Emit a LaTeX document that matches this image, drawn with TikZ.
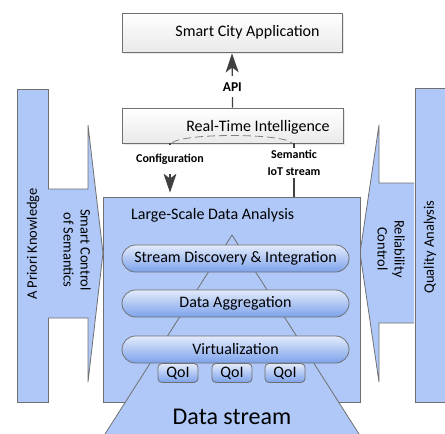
\documentclass[tikz,border=0pt]{standalone}
\usepackage{fontspec}
\setmainfont{Carlito}
\usetikzlibrary{arrows.meta,shadows}
\definecolor{paneblue}{HTML}{AFC8F7}
\definecolor{edgegray}{HTML}{707070}
\definecolor{pilltop}{HTML}{E3EBFB}
\definecolor{pillbot}{HTML}{7CA2EB}
\definecolor{arrowgray}{HTML}{404040}
\definecolor{boxbot}{HTML}{EAEAEA}
\tikzset{
  pane/.style={draw=edgegray, fill=paneblue, line width=0.8pt},
  whitebox/.style={draw=edgegray, line width=0.8pt, top color=white, bottom color=boxbot,
    drop shadow={opacity=0.18, shadow xshift=2pt, shadow yshift=-2pt}},
  pill/.style={draw=edgegray, line width=0.8pt, top color=pilltop, bottom color=pillbot,
    minimum width=227pt, minimum height=27pt, rounded corners=13.5pt, inner sep=0pt},
  qoi/.style={draw=edgegray, line width=0.8pt, top color=pilltop, bottom color=pillbot,
    minimum width=40pt, minimum height=19pt, rounded corners=4pt, inner sep=0pt},
  txt/.style={inner sep=0pt, font=\fontsize{16}{18}\selectfont},
  side/.style={inner sep=0pt, font=\fontsize{14.5}{17}\selectfont, align=center},
  lbl/.style={fill=white, inner sep=2pt, font=\fontsize{12}{17}\selectfont\bfseries, align=center},
  arr/.style={draw=arrowgray, line width=1.3pt,
    -{Stealth[length=19pt, width=13pt, inset=5pt]}}
}
\begin{document}
\begin{tikzpicture}[x=1pt, y=-1pt]
\useasboundingbox (0,0) rectangle (445,434);
\begin{scope}
\clip (0,0) rectangle (445,434);

% side bars
\node[pane, minimum width=31pt, minimum height=313pt, inner sep=0pt] (prior) at (32.5,245.5) {};
\node[pane, minimum width=31pt, minimum height=314pt, inner sep=0pt] (quality) at (430.5,245) {};
\node[side, rotate=90] (priortxt) at (33,244) {A Priori Knowledge};
\node[side, rotate=90] (qualitytxt) at (430,247) {Quality Analysis};

% block arrows
\path[pane] (48,189) -- (88,189) -- (88,125) -- (103,253) -- (88,382) -- (88,318) -- (48,318);
\path[pane] (414,183) -- (379,183) -- (379,125) -- (360,253) -- (379,382) -- (379,323) -- (414,323);
\node[side, rotate=-90] (semctl) at (77,250) {Smart Control\\of Semantics};
\node[side, rotate=-90] (relctl) at (391,249) {Reliability\\Control};

% upper boxes
\node[whitebox, minimum width=220pt, minimum height=39pt, inner sep=0pt] (sca) at (232,32.5) {};
\node[txt] (scatxt) at (247.5,32) {Smart City Application};
\node[whitebox, minimum width=221pt, minimum height=35pt, inner sep=0pt] (rti) at (232.5,125.5) {};
\node[txt] (rtitxt) at (258,127) {Real-Time Intelligence};
\draw[gray, dashed, line width=0.8pt, dash pattern=on 8pt off 4pt]
  (172,143) .. controls (182,133) and (282,133) .. (292,143);

% analysis frame
\node[pane, minimum width=257pt, minimum height=205pt, inner sep=0pt] (lsda) at (231.5,299.5) {};
\node[txt, anchor=west] (lsdatxt) at (131,215) {Large-Scale Data Analysis};

% data stream pyramid
\path[pane] (232,235) -- (88.4,460) -- (375.6,460) -- cycle;

% layers
\node[pill] (sdi) at (235.5,258.5) {};
\node[txt] at (sdi) {Stream Discovery \& Integration};
\node[pill] (agg) at (235.5,303.5) {};
\node[txt] at (agg) {Data Aggregation};
\node[pill] (virt) at (235.5,349.5) {};
\node[txt] at (virt) {Virtualization};
\node[qoi] (q1) at (178,373) {};
\node[qoi] (q2) at (232,373) {};
\node[qoi] (q3) at (285,373) {};
\foreach \q in {q1,q2,q3} \node[txt] at (\q) {QoI};
\node[inner sep=0pt, font=\fontsize{24}{28}\selectfont] (dstream) at (232,417) {Data stream};

% connectors
\draw[arr, shorten >=1pt] (rti.north) -- (sca.south)
  node[lbl, pos=0.38, inner ysep=6pt, font=\fontsize{13.5}{15}\selectfont\bfseries] (api) {API};
\coordinate (cfgx) at (170,0);
\coordinate (semx) at (294,0);
\draw[arr, shorten >=4pt] (rti.south -| cfgx) -- (lsda.north -| cfgx);
\draw[draw=arrowgray, line width=1.3pt] (lsda.north -| semx) -- (rti.south -| semx);
\node[lbl, minimum width=86pt, minimum height=29pt] (cfg) at (170,159) {Configuration};
\node[lbl, minimum width=72pt] (sem) at (294,163) {Semantic\\IoT stream};
\end{scope}
\end{tikzpicture}
\end{document}
